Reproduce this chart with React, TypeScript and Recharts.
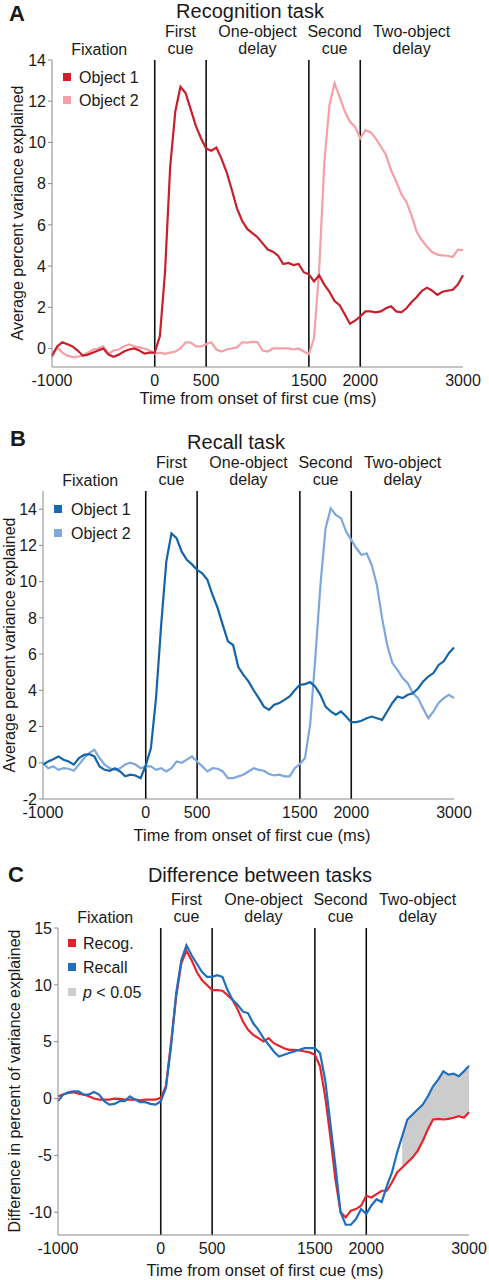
import React from "react";
import { ComposedChart, Line, Area, XAxis, YAxis, ReferenceLine } from "recharts";

// time grid (ms from onset of first cue), 50 ms steps
const TIME = Array.from({ length: 81 }, (_, i) => -1000 + i * 50);
const EVENTS = [0, 500, 1500, 2000];
const X_TICKS = [-1000, 0, 500, 1500, 2000, 3000];
const PHASE_NAMES = [["Fixation"], ["First", "cue"], ["One-object", "delay"], ["Second", "cue"], ["Two-object", "delay"]];
const PHASE_MID = [-540, 250, 1000, 1750, 2500];

// A: recognition task
const recogObj1 = [
  -0.34, 0.1, 0.3, 0.2, 0.1, -0.1, -0.35, -0.3, -0.2, -0.1, 0.0, -0.3, -0.4, -0.3, -0.15, -0.05, 0.0, -0.1, -0.25, -0.2, -0.2,
  0.6, 3.7, 8.8, 11.5, 12.7, 12.4, 11.6, 10.8, 10.2, 9.7,
  9.6, 9.75, 9.2, 8.55, 7.7, 6.8, 6.2, 5.8, 5.6, 5.4,
  5.1, 4.8, 4.7, 4.5, 4.1, 4.15, 4.05, 4.1, 3.7, 3.6,
  3.25, 3.55, 3.1, 2.75, 2.3, 2.1, 1.65, 1.2, 1.35, 1.55,
  1.8, 1.8, 1.75, 1.8, 1.95, 2.05, 1.8, 1.75, 1.95, 2.25,
  2.5, 2.8, 2.95, 2.8, 2.6, 2.75, 2.8, 2.85, 3.1, 3.55,
];
const recogObj2 = [
  -0.42, 0.05, -0.2, -0.35, -0.42, -0.4, -0.34, -0.2, -0.05, 0.0, 0.1, -0.25, -0.1, -0.05, 0.1, 0.2, 0.1, 0.05, 0.0, -0.1, -0.26,
  -0.2, -0.26, -0.2, -0.15, 0.0, 0.3, 0.28, 0.1, 0.1, 0.2,
  0.3, -0.05, -0.15, -0.05, 0.0, 0.05, 0.3, 0.28, 0.32, 0.3,
  -0.1, -0.15, 0.0, 0.0, 0.0, 0.0, -0.05, 0.0, -0.15, -0.28,
  0.5, 3.8, 9.0, 11.8, 12.87, 12.2, 11.5, 11.0, 10.75, 10.2,
  10.6, 10.5, 10.2, 9.8, 9.4, 8.65, 8.1, 7.5, 7.1, 6.45,
  5.65, 5.25, 4.93, 4.68, 4.55, 4.52, 4.5, 4.44, 4.8, 4.77,
];

// B: recall task
const recallObj1 = [
  -0.1, 0.07, 0.2, 0.35, 0.17, 0.07, -0.1, 0.26, 0.44, 0.48, 0.35, -0.2, -0.39, -0.44, -0.3, -0.48, -0.75, -0.66, -0.7, -0.85, -0.15,
  0.8, 3.57, 7.6, 11.1, 12.66, 12.4, 11.65, 11.2, 10.95, 10.65,
  10.46, 10.1, 9.26, 8.53, 7.6, 6.7, 6.5, 5.3, 4.85, 4.49,
  4.0, 3.57, 3.1, 2.92, 3.2, 3.3, 3.47, 3.66, 4.0, 4.3,
  4.34, 4.45, 4.2, 3.75, 3.1, 2.83, 2.65, 2.83, 2.55, 2.24,
  2.24, 2.32, 2.46, 2.55, 2.46, 2.37, 2.83, 3.3, 3.66, 3.57,
  3.75, 3.84, 4.1, 4.49, 4.76, 4.95, 5.4, 5.6, 6.05, 6.36,
];
const recallObj2 = [
  0.0, -0.3, -0.2, -0.39, -0.3, -0.33, -0.44, -0.1, 0.26, 0.53, 0.72, 0.26, -0.1, -0.3, -0.39, -0.3, -0.1, 0.0, -0.1, -0.3, -0.2,
  -0.2, -0.39, -0.3, -0.48, -0.3, 0.07, 0.0, 0.17, 0.35, 0.07,
  -0.2, -0.48, -0.3, -0.33, -0.48, -0.85, -0.85, -0.75, -0.66, -0.48,
  -0.3, -0.39, -0.44, -0.62, -0.7, -0.66, -0.75, -0.75, -0.3, -0.07,
  0.26, 2.1, 5.77, 9.8, 12.94, 14.04, 13.68, 13.5, 12.76, 12.3,
  11.84, 11.47, 11.56, 10.9, 9.8, 7.98, 6.5, 5.5, 5.13, 4.67,
  4.39, 3.84, 3.57, 3.0, 2.46, 2.83, 3.3, 3.57, 3.75, 3.57,
];

// C: difference between tasks
const diffRecog = [
  0.2, 0.35, 0.5, 0.55, 0.44, 0.35, 0.2, 0.0, -0.09, -0.09, -0.09, 0.0, -0.03, -0.09, -0.09, -0.09, -0.15, -0.09, -0.09, -0.09, 0.06,
  1.08, 4.87, 8.96, 11.9, 13.0, 12.17, 11.15, 10.42, 9.98, 9.54,
  9.54, 9.48, 9.1, 8.67, 7.8, 6.77, 6.04, 5.6, 5.31, 5.02,
  5.31, 4.87, 4.64, 4.43, 4.29, 4.29, 4.23, 4.14, 4.06, 3.85,
  2.83, 0.2, -3.3, -7.1, -10.0, -10.45, -9.86, -9.72, -9.42, -8.55,
  -8.7, -8.4, -8.11, -8.11, -7.38, -6.5, -6.07, -5.63, -5.19, -4.6,
  -3.73, -2.7, -1.84, -1.78, -1.84, -1.78, -1.69, -1.55, -1.69, -1.2,
];
const diffRecall = [
  -0.23, 0.35, 0.55, 0.64, 0.64, 0.35, 0.35, 0.58, 0.35, -0.23, -0.53, -0.47, -0.23, -0.23, 0.2, -0.09, -0.32, -0.32, -0.47, -0.53, -0.23,
  0.93, 4.58, 9.25, 12.17, 13.48, 12.6, 11.88, 11.15, 10.7, 10.7,
  10.85, 10.7, 9.54, 8.67, 8.23, 7.65, 7.5, 6.62, 6.04, 5.31,
  4.73, 4.14, 3.7, 3.85, 4.0, 4.14, 4.29, 4.43, 4.43, 4.43,
  4.0, 1.66, -2.13, -5.92, -10.0, -11.1, -11.1, -10.6, -9.72, -10.15,
  -9.4, -8.85, -9.1, -7.7, -6.5, -4.76, -3.3, -1.84, -1.4, -0.96,
  -0.53, 0.2, 1.08, 1.66, 2.39, 2.1, 2.19, 1.96, 2.39, 2.89,
];
const SIG_START = 2350; // p < 0.05 from here to the end

const FONT = "'Liberation Sans', Arial, sans-serif";
const W = 489;

function Txt({ x, y, children, size = 16, bold = false, anchor = "middle", lh = 17 }: any) {
  return (
    <div
      style={{
        position: "absolute",
        left: x,
        top: y,
        transform: anchor === "middle" ? "translate(-50%, -50%)" : "translate(0, -50%)",
        fontSize: size,
        fontWeight: bold ? 700 : 400,
        lineHeight: lh + "px",
        whiteSpace: "nowrap",
        textAlign: "center",
        color: "#1a1a1a",
      }}
    >
      {children}
    </div>
  );
}

function Panel({ plot, yDomain, yTicks, data, series, area, letter, letterPos, title, titlePos, yLabel, yLabelPos, xLabelPos, legend }: any) {
  const top = plot.top - 20;
  const height = plot.bottom - plot.top + 20 + 45;
  const xOf = (t: number) => plot.left + ((t + 1000) / 4000) * (plot.right - plot.left);
  return (
    <>
      <div style={{ position: "absolute", left: 0, top }}>
        <ComposedChart
          width={W}
          height={height}
          data={data}
          margin={{ top: 20, left: plot.left - 40, right: W - plot.right, bottom: 15 }}
        >
          <XAxis
            dataKey="t"
            type="number"
            domain={[-1000, 3000]}
            ticks={X_TICKS}
            height={30}
            stroke="#8a8a8a"
            tickLine={false}
            tick={{ fill: "#1a1a1a", fontSize: 16, fontFamily: FONT }}
            interval={0}
          />
          <YAxis
            width={40}
            domain={yDomain}
            ticks={yTicks}
            allowDataOverflow
            stroke="#8a8a8a"
            tickSize={4}
            tick={{ fill: "#1a1a1a", fontSize: 16, fontFamily: FONT }}
            interval={0}
          />
          {area && (
            <Area dataKey="sig" stroke="none" fill="#cccccc" fillOpacity={1} isAnimationActive={false} connectNulls={false} />
          )}
          {EVENTS.map((e) => (
            <ReferenceLine key={e} x={e} stroke="#111" strokeWidth={1.6} />
          ))}
          {series.map((s: any) => (
            <Line
              key={s.key}
              dataKey={s.key}
              stroke={s.color}
              strokeWidth={2.2}
              dot={false}
              type="linear"
              isAnimationActive={false}
            />
          ))}
        </ComposedChart>
      </div>
      <Txt x={letterPos[0]} y={letterPos[1]} size={22} bold lh={22}>
        {letter}
      </Txt>
      <Txt x={titlePos[0]} y={titlePos[1]} size={20} lh={20}>
        {title}
      </Txt>
      {PHASE_NAMES.map((p, i) => (
        <Txt key={i} x={xOf(PHASE_MID[i])} y={p.length === 2 ? plot.top - 20 : plot.top - 11.5}>
          {p.map((line, j) => (
            <div key={j}>{line}</div>
          ))}
        </Txt>
      ))}
      {legend.map((l: any, i: number) => (
        <React.Fragment key={i}>
          <div
            style={{
              position: "absolute",
              left: l.sx - 4,
              top: l.y - 4,
              width: 8,
              height: 8,
              background: l.color,
            }}
          />
          <Txt x={l.tx} y={l.y} anchor="start">
            {l.label}
          </Txt>
        </React.Fragment>
      ))}
      <Txt x={xLabelPos[0]} y={xLabelPos[1]} size={16.5}>
        Time from onset of first cue (ms)
      </Txt>
      <div
        style={{
          position: "absolute",
          left: yLabelPos[0],
          top: yLabelPos[1],
          transform: "translate(-50%, -50%) rotate(-90deg)",
          fontSize: 16,
          lineHeight: "17px",
          whiteSpace: "nowrap",
          color: "#1a1a1a",
        }}
      >
        {yLabel}
      </div>
    </>
  );
}

export default function App() {
  const dataA = TIME.map((t, i) => ({ t, o1: recogObj1[i], o2: recogObj2[i] }));
  const dataB = TIME.map((t, i) => ({ t, o1: recallObj1[i], o2: recallObj2[i] }));
  const dataC = TIME.map((t, i) => ({
    t,
    recog: diffRecog[i],
    recall: diffRecall[i],
    sig: t >= SIG_START ? [diffRecog[i], diffRecall[i]] : null,
  }));

  return (
    <div
      style={{
        position: "absolute",
        left: 0,
        top: 0,
        width: W,
        height: 1280,
        background: "#fff",
        fontFamily: FONT,
        overflow: "hidden",
      }}
    >
      <Panel
        plot={{ left: 52, right: 463, top: 60, bottom: 367 }}
        yDomain={[-0.9, 14]}
        yTicks={[0, 2, 4, 6, 8, 10, 12, 14]}
        data={dataA}
        series={[
          { key: "o2", color: "#f4a0a6" },
          { key: "o1", color: "#c91f2b" },
        ]}
        letter="A"
        letterPos={[17, 14]}
        title="Recognition task"
        titlePos={[250, 11]}
        yLabel="Average percent variance explained"
        yLabelPos={[17, 213]}
        xLabelPos={[258, 398]}
        legend={[
          { label: "Object 1", color: "#d0202e", sx: 67, tx: 79, y: 77 },
          { label: "Object 2", color: "#f5a0a8", sx: 67, tx: 79, y: 100 },
        ]}
      />
      <Panel
        plot={{ left: 43, right: 454, top: 491, bottom: 799 }}
        yDomain={[-2, 15]}
        yTicks={[-2, 0, 2, 4, 6, 8, 10, 12, 14]}
        data={dataB}
        series={[
          { key: "o2", color: "#7ea8dd" },
          { key: "o1", color: "#1464a8" },
        ]}
        letter="B"
        letterPos={[18, 439]}
        title="Recall task"
        titlePos={[236, 442]}
        yLabel="Average percent variance explained"
        yLabelPos={[9, 645]}
        xLabelPos={[252, 835]}
        legend={[
          { label: "Object 1", color: "#1a6aaf", sx: 58, tx: 71, y: 509 },
          { label: "Object 2", color: "#7fa9de", sx: 58, tx: 71, y: 533 },
        ]}
      />
      <Panel
        plot={{ left: 58, right: 469, top: 928, bottom: 1235 }}
        yDomain={[-12, 15]}
        yTicks={[-10, -5, 0, 5, 10, 15]}
        data={dataC}
        area
        series={[
          { key: "recog", color: "#e8232b" },
          { key: "recall", color: "#1f6fbf" },
        ]}
        letter="C"
        letterPos={[16, 875]}
        title="Difference between tasks"
        titlePos={[260, 875]}
        yLabel="Difference in percent of variance explained"
        yLabelPos={[14, 1081]}
        xLabelPos={[265, 1270]}
        legend={[
          { label: "Recog.", color: "#e8202a", sx: 72, tx: 83, y: 943 },
          { label: "Recall", color: "#1f6fc0", sx: 72, tx: 83, y: 967 },
          {
            label: (
              <span>
                <i>p</i> &lt; 0.05
              </span>
            ),
            color: "#cccccc",
            sx: 72,
            tx: 83,
            y: 992,
          },
        ]}
      />
    </div>
  );
}
